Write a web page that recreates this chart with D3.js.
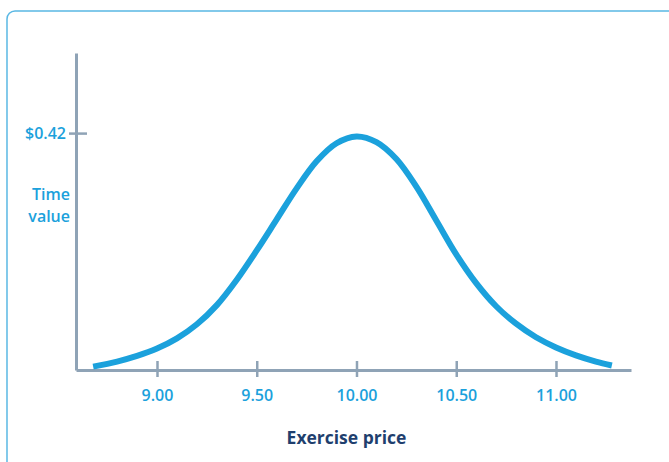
<!DOCTYPE html>
<html>
<head>
<meta charset="utf-8">
<script src="https://cdn.jsdelivr.net/npm/d3@7"></script>
<style>
  html, body { margin: 0; padding: 0; background: #ffffff; }
  svg { display: block; }
  text { font-family: "Open Sans", sans-serif; }
</style>
</head>
<body>
<svg id="chart" width="669" height="462"></svg>
<script>
// ---- data ----
const exercisePrices = [8.68, 8.80, 8.90, 9.00, 9.10, 9.20, 9.30, 9.40, 9.50, 9.60, 9.70, 9.80, 9.90, 10.00, 10.10, 10.20, 10.30, 10.40, 10.50, 10.60, 10.70, 10.80, 10.90, 11.00, 11.10, 11.20, 11.28];
const timeValues     = [0.006, 0.015, 0.025, 0.038, 0.056, 0.081, 0.115, 0.160, 0.212, 0.267, 0.322, 0.370, 0.402, 0.414, 0.404, 0.374, 0.325, 0.265, 0.205, 0.154, 0.113, 0.082, 0.058, 0.040, 0.026, 0.015, 0.008];
const xTickValues = [9.00, 9.50, 10.00, 10.50, 11.00];
const xTickLabels = ["9.00", "9.50", "10.00", "10.50", "11.00"];
const yTickValues = [0.42];
const yTickLabels = ["$0.42"];
const yTitleLines = ["Time", "value"];
const xTitle = "Exercise price";

// ---- style ----
const blue = "#1ba1dc";
const axisColor = "#8fa3b6";
const navy = "#1f3f6e";

const svg = d3.select("#chart");

// frame
svg.append("rect")
  .attr("x", 7).attr("y", 11)
  .attr("width", 720).attr("height", 520)
  .attr("rx", 8).attr("ry", 8)
  .attr("fill", "none")
  .attr("stroke", "#5ab8e4")
  .attr("stroke-width", 1.5);

const x = d3.scaleLinear().domain([8.594, 11.376]).range([76, 631]);
const y = d3.scaleLinear().domain([0, 0.562]).range([370, 53]);

// x axis
const xAxis = d3.axisBottom(x)
  .tickValues(xTickValues)
  .tickFormat((d, i) => xTickLabels[i])
  .tickSizeInner(8).tickSizeOuter(0).tickPadding(11);

const gx = svg.append("g").attr("transform", `translate(0,${y(0)})`).call(xAxis);
gx.select(".domain").attr("stroke", axisColor).attr("stroke-width", 3);
gx.selectAll(".tick line").attr("stroke", axisColor).attr("stroke-width", 2.5).attr("y1", -9).attr("y2", 7);
gx.selectAll(".tick text")
  .attr("fill", blue).attr("font-size", 16).attr("font-weight", 600)
  .attr("font-family", "'Open Sans', sans-serif")
  .attr("dy", "0.72em");

// y axis
const yAxis = d3.axisLeft(y)
  .tickValues(yTickValues)
  .tickFormat((d, i) => yTickLabels[i])
  .tickSizeInner(8).tickSizeOuter(0).tickPadding(12);

const gy = svg.append("g").attr("transform", `translate(${x.range()[0]},0)`).call(yAxis);
gy.select(".domain").attr("stroke", axisColor).attr("stroke-width", 3);
gy.selectAll(".tick line").attr("stroke", axisColor).attr("stroke-width", 2.5).attr("x1", -7).attr("x2", 11);
gy.selectAll(".tick text")
  .attr("fill", blue).attr("font-size", 16).attr("font-weight", 600)
  .attr("font-family", "'Open Sans', sans-serif")
  .attr("x", -10);

// y title
svg.append("text")
  .attr("text-anchor", "end")
  .attr("fill", blue).attr("font-size", 16).attr("font-weight", 600)
  .selectAll("tspan").data(yTitleLines).join("tspan")
  .attr("x", 70)
  .attr("y", (d, i) => 200 + i * 22)
  .text(d => d);

// x title
svg.append("text")
  .attr("x", (x(9.00) + x(11.00)) / 2 - 10)
  .attr("y", 444)
  .attr("text-anchor", "middle")
  .attr("fill", navy).attr("font-size", 17.5).attr("font-weight", 700)
  .text(xTitle);

// curve
const pts = exercisePrices.map((p, i) => [p, timeValues[i]]);
const line = d3.line()
  .x(d => x(d[0]))
  .y(d => y(d[1]))
  .curve(d3.curveCatmullRom.alpha(0.5));

svg.append("path")
  .datum(pts)
  .attr("d", line)
  .attr("fill", "none")
  .attr("stroke", blue)
  .attr("stroke-width", 6)
  .attr("stroke-linecap", "butt");
</script>
</body>
</html>
